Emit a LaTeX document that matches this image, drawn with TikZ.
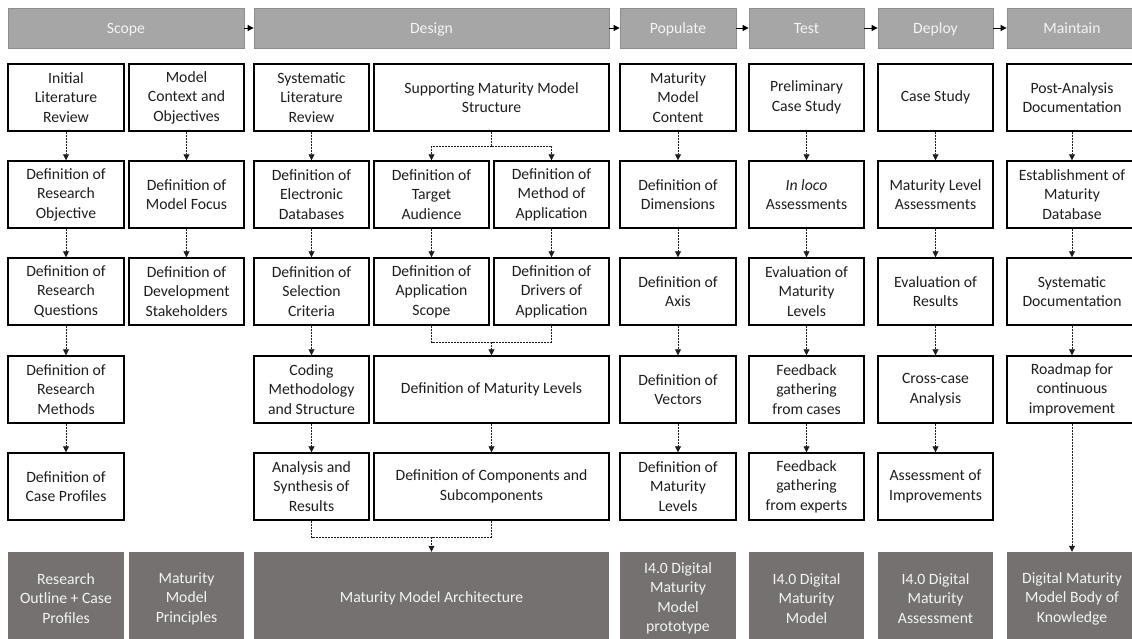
\documentclass[tikz,border=0pt]{standalone}
\usepackage{fontspec}
\setmainfont{Carlito}
\usetikzlibrary{arrows.meta,calc}
\definecolor{hdr}{HTML}{A6A6A6}
\definecolor{hdrline}{HTML}{8E8E8E}
\definecolor{outc}{HTML}{767171}
\definecolor{ltext}{HTML}{F4F4F4}
\definecolor{txt}{HTML}{1E1E1E}
\begin{document}
\begin{tikzpicture}[x=1pt,y=-1pt,
  lbl/.style={align=center, inner sep=0pt, font=\fontsize{15.7}{19.5}\selectfont},
  box/.style={lbl, draw=black, line width=1.4pt, fill=white, text=txt, minimum height=67pt},
  hdrbox/.style={lbl, draw=hdrline, line width=0.8pt, fill=hdr, text=ltext, minimum height=40pt, text height=13pt, text depth=2pt},
  outbox/.style={lbl, fill=outc, text=ltext, minimum height=93pt},
  dline/.style={line width=0.8pt, dash pattern=on 2pt off 1pt, draw=txt},
  arr/.style={dline, -{Triangle[width=6pt,length=6pt]}},
  harr/.style={line width=0.8pt, draw=black, -{Triangle[width=6pt,length=6pt]}}
]
\useasboundingbox (0,0) rectangle (1132,639);

% headers
\node[hdrbox, minimum width=236pt] (hScope) at (126,28) {Scope};
\node[hdrbox, minimum width=355pt] (hDesign) at (431.5,28) {Design};
\node[hdrbox, minimum width=116pt] (hPop) at (678,28) {Populate};
\node[hdrbox, minimum width=115pt] (hTest) at (806.5,28) {Test};
\node[hdrbox, minimum width=115pt] (hDep) at (935.5,28) {Deploy};
\node[hdrbox, minimum width=130pt] (hMain) at (1072,28) {Maintain};
\draw[harr] (hScope) -- (hDesign);
\draw[harr] (hDesign) -- (hPop);
\draw[harr] (hPop) -- (hTest);
\draw[harr] (hTest) -- (hDep);
\draw[harr] (hDep) -- (hMain);

% column 1
\node[box, minimum width=116pt] (a1) at (66,97.5) {Initial\\Literature\\Review};
\node[box, minimum width=116pt] (a2) at (66,194.5) {Definition of\\Research\\Objective};
\node[box, minimum width=116pt] (a3) at (66,291.5) {Definition of\\Research\\Questions};
\node[box, minimum width=116pt] (a4) at (66,389.5) {Definition of\\Research\\Methods};
\node[box, minimum width=116pt] (a5) at (66,486.5) {Definition of\\Case Profiles};
% column 2
\node[box, minimum width=115pt] (b1) at (186.5,97.5) {Model\\Context and\\Objectives};
\node[box, minimum width=115pt] (b2) at (186.5,194.5) {Definition of\\Model Focus};
\node[box, minimum width=115pt] (b3) at (186.5,291.5) {Definition of\\Development\\Stakeholders};
% column 3
\node[box, minimum width=115pt] (c1) at (311.5,97.5) {Systematic\\Literature\\Review};
\node[box, minimum width=115pt] (c2) at (311.5,194.5) {Definition of\\Electronic\\Databases};
\node[box, minimum width=115pt] (c3) at (311.5,291.5) {Definition of\\Selection\\Criteria};
\node[box, minimum width=115pt] (c4) at (311.5,389.5) {Coding\\Methodology\\and Structure};
\node[box, minimum width=115pt] (c5) at (311.5,486.5) {Analysis and\\Synthesis of\\Results};
% column 4
\node[box, minimum width=235pt] (d1) at (491.5,97.5) {Supporting Maturity Model\\Structure};
\node[box, minimum width=115pt] (d2a) at (431.5,194.5) {Definition of\\Target\\Audience};
\node[box, minimum width=115pt] (d2b) at (551.5,194.5) {Definition of\\Method of\\Application};
\node[box, minimum width=115pt] (d3a) at (431.5,291.5) {Definition of\\Application\\Scope};
\node[box, minimum width=115pt] (d3b) at (551.5,291.5) {Definition of\\Drivers of\\Application};
\node[box, minimum width=235pt] (d4) at (491.5,389.5) {Definition of Maturity Levels};
\node[box, minimum width=235pt] (d5) at (491.5,486.5) {Definition of Components and\\Subcomponents};
% column 5
\node[box, minimum width=116pt] (e1) at (678,97.5) {Maturity\\Model\\Content};
\node[box, minimum width=116pt] (e2) at (678,194.5) {Definition of\\Dimensions};
\node[box, minimum width=116pt] (e3) at (678,291.5) {Definition of\\Axis};
\node[box, minimum width=116pt] (e4) at (678,389.5) {Definition of\\Vectors};
\node[box, minimum width=116pt] (e5) at (678,486.5) {Definition of\\Maturity\\Levels};
% column 6
\node[box, minimum width=115pt] (f1) at (806.5,97.5) {Preliminary\\Case Study};
\node[box, minimum width=115pt] (f2) at (806.5,194.5) {\textit{In loco}\\Assessments};
\node[box, minimum width=115pt] (f3) at (806.5,291.5) {Evaluation of\\Maturity\\Levels};
\node[box, minimum width=115pt] (f4) at (806.5,389.5) {Feedback\\gathering\\from cases};
\node[box, minimum width=115pt] (f5) at (806.5,486.5) {Feedback\\gathering\\from experts};
% column 7
\node[box, minimum width=115pt] (g1) at (935.5,97.5) {Case Study};
\node[box, minimum width=115pt] (g2) at (935.5,194.5) {Maturity Level\\Assessments};
\node[box, minimum width=115pt] (g3) at (935.5,291.5) {Evaluation of\\Results};
\node[box, minimum width=115pt] (g4) at (935.5,389.5) {Cross-case\\Analysis};
\node[box, minimum width=115pt] (g5) at (935.5,486.5) {Assessment of\\Improvements};
% column 8
\node[box, minimum width=130pt] (m1) at (1072,97.5) {Post-Analysis\\Documentation};
\node[box, minimum width=130pt] (m2) at (1072,194.5) {Establishment of\\Maturity\\Database};
\node[box, minimum width=130pt] (m3) at (1072,291.5) {Systematic\\Documentation};
\node[box, minimum width=130pt] (m4) at (1072,389.5) {Roadmap for\\continuous\\improvement};

% outputs
\node[outbox, minimum width=116pt] (oA) at (66,598.5) {Research\\Outline + Case\\Profiles};
\node[outbox, minimum width=115pt] (oB) at (186.5,598.5) {Maturity\\Model\\Principles};
\node[outbox, minimum width=355pt] (oArch) at (431.5,598.5) {Maturity Model Architecture};
\node[outbox, minimum width=116pt] (oPop) at (678,598.5) {I4.0 Digital\\Maturity\\Model\\prototype};
\node[outbox, minimum width=115pt] (oTest) at (806.5,598.5) {I4.0 Digital\\Maturity\\Model};
\node[outbox, minimum width=115pt] (oDep) at (935.5,598.5) {I4.0 Digital\\Maturity\\Assessment};
\node[outbox, minimum width=130pt] (oMain) at (1072,598.5) {Digital Maturity\\Model Body of\\Knowledge};

% connectors
\foreach \p/\q in {a1/a2,a2/a3,a3/a4,a4/a5,b1/b2,b2/b3,c1/c2,c2/c3,c3/c4,c4/c5,
  d2a/d3a,d2b/d3b,d4/d5,e1/e2,e2/e3,e3/e4,e4/e5,f1/f2,f2/f3,f3/f4,f4/f5,
  g1/g2,g2/g3,g3/g4,g4/g5,m1/m2,m2/m3,m3/m4,m4/oMain}
  \draw[arr] (\p) -- (\q);

\coordinate (ds) at (491.5,146);
\draw[dline] (d1.south) -- (ds);
\draw[arr] (ds) -| (d2a.north);
\draw[arr] (ds) -| (d2b.north);

\coordinate (dm) at (491.5,342);
\draw[dline] (d3a.south) |- (dm) -| (d3b.south);
\draw[arr] (dm) -- (d4.north);

\coordinate (bm) at (431.5,537);
\draw[dline] (c5.south) |- (bm) -| (d5.south);
\draw[arr] (bm) -- (oArch.north);
\end{tikzpicture}
\end{document}
